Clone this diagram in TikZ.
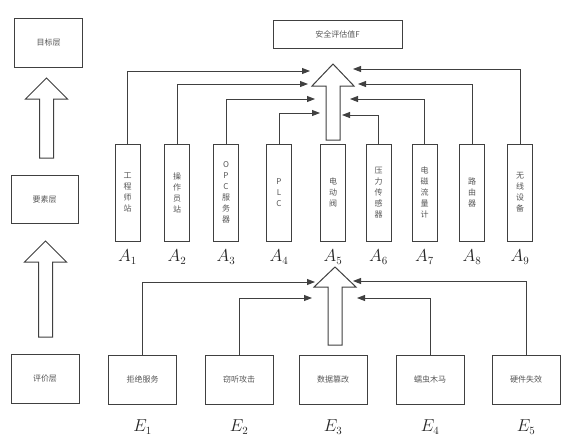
\documentclass[tikz,border=0pt]{standalone}
\usepackage{fontspec}
\newfontfamily\cjk{Noto Sans CJK SC}
\usetikzlibrary{arrows.meta,positioning}
\definecolor{linegray}{HTML}{404040}
\definecolor{textgray}{HTML}{555555}

\begin{document}
\begin{tikzpicture}[
  x=1pt,y=-1pt,
  >={Triangle[length=8pt,width=6pt]},
  line width=0.9pt,
  color=linegray,
  layerbox/.style={draw,minimum width=68pt,minimum height=49pt,inner sep=0pt,
    font=\cjk\fontsize{8}{10}\selectfont,text=textgray},
  elembox/.style={draw,minimum width=25pt,minimum height=97pt,inner sep=0pt,
    align=center,font=\cjk\fontsize{8}{11}\selectfont,text=textgray},
  sublabel/.style={font=\fontsize{16}{18}\selectfont,text=black!85,inner sep=0pt},
  hollow/.style={draw,fill=white,line width=1pt,line join=miter},
]
\useasboundingbox (0,0) rectangle (579,437);

% layers
\node[layerbox] (goal) at (48.5,42.5) {目标层};
\node[layerbox,minimum width=67pt,minimum height=48pt] (elem) at (44.5,199) {要素层};
\node[layerbox] (eval) at (45,378.5) {评价层};
\node[layerbox,minimum width=129pt,minimum height=28pt] (F) at (337.5,34) {安全评估值F};

% elements
\foreach \i/\x/\t in {1/127.5/{工\\程\\师\\站},2/177/{操\\作\\员\\站},
    3/226/{O\\P\\C\\服\\务\\器},4/279/{P\\L\\C},5/333/{电\\动\\阀},
    6/378.5/{压\\力\\传\\感\\器},7/424.5/{电\\磁\\流\\量\\计},
    8/472/{路\\由\\器},9/520/{无\\线\\设\\备}} {
  \node[elembox] (a\i) at (\x,192.5) {\t};
  \node[sublabel,below=8pt of a\i] (la\i) {$A_{\i}$};
}

% events
\foreach \i/\x/\t in {1/142.5/拒绝服务,2/239/窃听攻击,3/333/数据篡改,
    4/430/蠕虫木马,5/526/硬件失效} {
  \node[layerbox] (e\i) at (\x,379.5) {\t};
  \node[sublabel,below=15pt of e\i] (le\i) {$E_{\i}$};
}

% hollow arrows
\foreach \cx/\ty/\by/\ey in {46.5/78/99/158,45.5/241/262/337,
    333/64/86/140,335/267/287/345} {
  \draw[hollow] (\cx,\ty) -- (\cx+21,\by) -- (\cx+7,\by) -- (\cx+7,\ey)
    -- (\cx-7,\ey) -- (\cx-7,\by) -- (\cx-21,\by) -- cycle;
}

% connectors
\foreach \i/\tx/\ty in {1/310/71,2/308/84,3/315/99,4/320/113,
    6/342/115,7/350/99,8/358/84,9/353/69} {
  \coordinate (ta\i) at (\tx,\ty);
  \draw[->] (a\i.north) |- (ta\i);
}
\foreach \i/\tx/\ty in {1/315/282,2/312/298,4/357/298,5/353/281} {
  \coordinate (te\i) at (\tx,\ty);
  \draw[->] (e\i.north) |- (te\i);
}

\end{tikzpicture}
\end{document}
